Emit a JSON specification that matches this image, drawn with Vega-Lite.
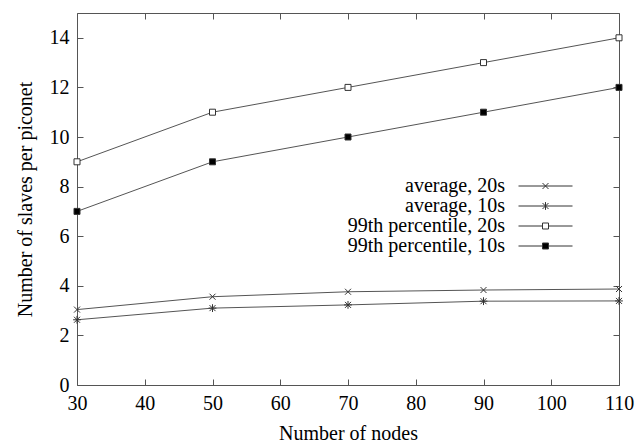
{
  "$schema": "https://vega.github.io/schema/vega-lite/v6.json",
  "width": 542,
  "height": 372,
  "autosize": {"type": "none"},
  "padding": {"left": 77, "top": 13, "right": 23, "bottom": 60},
  "background": "white",
  "config": {
    "font": "Liberation Serif, Times New Roman, DejaVu Serif, serif",
    "view": {"stroke": "#555", "strokeWidth": 1},
    "axis": {
      "domain": false,
      "grid": false,
      "tickColor": "#555",
      "tickSize": -6,
      "labelFont": "Liberation Serif, Times New Roman, DejaVu Serif, serif",
      "labelFontSize": 20,
      "labelColor": "#000",
      "labelFlush": false,
      "titleFont": "Liberation Serif, Times New Roman, DejaVu Serif, serif",
      "titleFontSize": 20,
      "titleFontWeight": "normal",
      "titleColor": "#000"
    },
    "legend": {
      "labelFont": "Liberation Serif, Times New Roman, DejaVu Serif, serif"
    }
  },
  "data": {
    "values": [
      {"nodes": 30, "value": 3.04, "series": "average, 20s"},
      {"nodes": 50, "value": 3.56, "series": "average, 20s"},
      {"nodes": 70, "value": 3.76, "series": "average, 20s"},
      {"nodes": 90, "value": 3.83, "series": "average, 20s"},
      {"nodes": 110, "value": 3.87, "series": "average, 20s"},
      {"nodes": 30, "value": 2.63, "series": "average, 10s"},
      {"nodes": 50, "value": 3.1, "series": "average, 10s"},
      {"nodes": 70, "value": 3.23, "series": "average, 10s"},
      {"nodes": 90, "value": 3.38, "series": "average, 10s"},
      {"nodes": 110, "value": 3.39, "series": "average, 10s"},
      {"nodes": 30, "value": 9, "series": "99th percentile, 20s"},
      {"nodes": 50, "value": 11, "series": "99th percentile, 20s"},
      {"nodes": 70, "value": 12, "series": "99th percentile, 20s"},
      {"nodes": 90, "value": 13, "series": "99th percentile, 20s"},
      {"nodes": 110, "value": 14, "series": "99th percentile, 20s"},
      {"nodes": 30, "value": 7, "series": "99th percentile, 10s"},
      {"nodes": 50, "value": 9, "series": "99th percentile, 10s"},
      {"nodes": 70, "value": 10, "series": "99th percentile, 10s"},
      {"nodes": 90, "value": 11, "series": "99th percentile, 10s"},
      {"nodes": 110, "value": 12, "series": "99th percentile, 10s"}
    ]
  },
  "layer": [
    {
      "mark": {"type": "line", "stroke": "#555", "strokeWidth": 1},
      "encoding": {
        "x": {"field": "nodes", "type": "quantitative", "scale": {"domain": [30, 110], "nice": false},
              "axis": {"orient": "bottom", "values": [30, 40, 50, 60, 70, 80, 90, 100, 110], "title": "Number of nodes", "labelPadding": 14, "titlePadding": 10}},
        "y": {"field": "value", "type": "quantitative", "scale": {"domain": [0, 15], "nice": false},
              "axis": {"orient": "left", "values": [0, 2, 4, 6, 8, 10, 12, 14], "title": "Number of slaves per piconet", "labelPadding": 14, "titlePadding": 14}},
        "detail": {"field": "series"}
      }
    },
    {
      "mark": {"type": "point", "filled": true, "size": 36, "opacity": 1, "stroke": "#333", "strokeWidth": 1},
      "encoding": {
        "x": {"field": "nodes", "type": "quantitative",
              "axis": {"orient": "top", "values": [30, 40, 50, 60, 70, 80, 90, 100, 110], "labels": false, "title": null}},
        "y": {"field": "value", "type": "quantitative",
              "axis": {"orient": "right", "values": [0, 2, 4, 6, 8, 10, 12, 14], "labels": false, "title": null}},
        "shape": {"field": "series", "type": "nominal",
                  "scale": {"domain": ["average, 20s", "average, 10s", "99th percentile, 20s", "99th percentile, 10s"],
                            "range": ["M-1,-1L1,1M-1,1L1,-1", "M-1,-1L1,1M-1,1L1,-1M0,-1.3V1.3M-1.3,0H1.3", "M-1,-1H1V1H-1Z", "M-1,-1H1V1H-1Z"]},
                  "legend": null},
        "fill": {"field": "series", "type": "nominal",
                 "scale": {"domain": ["average, 20s", "average, 10s", "99th percentile, 20s", "99th percentile, 10s"],
                           "range": ["transparent", "transparent", "white", "#000"]},
                 "legend": null}
      }
    },
    {
      "transform": [{"filter": "false"}],
      "mark": {"type": "point", "filled": true, "size": 36, "opacity": 1, "stroke": "#333", "strokeWidth": 1},
      "encoding": {
        "x": {"field": "nodes", "type": "quantitative", "axis": null},
        "y": {"field": "value", "type": "quantitative", "axis": null},
        "shape": {"field": "series", "type": "nominal",
                  "scale": {"domain": ["average, 20s", "average, 10s", "99th percentile, 20s", "99th percentile, 10s"],
                            "range": ["M-9,0H9M-1,-1L1,1M-1,1L1,-1", "M-9,0H9M-1,-1L1,1M-1,1L1,-1M0,-1.3V1.3", "M-9,0H-1M1,0H9M-1,-1H1V1H-1Z", "M-9,0H-1M1,0H9M-1,-1H1V1H-1Z"]},
                  "legend": {"orient": "none", "legendX": 458.5, "legendY": 163, "title": null, "padding": 0, "offset": 0,
                             "symbolSize": 36, "symbolStrokeColor": "#333", "symbolStrokeWidth": 1, "symbolOpacity": 1,
                             "labelFontSize": 20, "labelColor": "#000", "labelAlign": "right",
                             "labelOffset": -50.5, "labelLimit": 400, "rowPadding": 0,
                             "encode": {"symbols": {"update": {"stroke": {"value": "#333"}, "strokeWidth": {"value": 1}}}}}},
        "fill": {"field": "series", "type": "nominal",
                 "scale": {"domain": ["average, 20s", "average, 10s", "99th percentile, 20s", "99th percentile, 10s"],
                           "range": ["transparent", "transparent", "white", "#000"]},
                 "legend": {"orient": "none", "legendX": 458.5, "legendY": 163, "title": null, "padding": 0, "offset": 0,
                            "symbolSize": 36, "symbolStrokeColor": "#333", "symbolStrokeWidth": 1, "symbolOpacity": 1,
                            "labelFontSize": 20, "labelColor": "#000", "labelAlign": "right",
                            "labelOffset": -50.5, "labelLimit": 400, "rowPadding": 0,
                            "encode": {"symbols": {"update": {"stroke": {"value": "#333"}, "strokeWidth": {"value": 1}}}}}}
      }
    }
  ],
  "resolve": {
    "scale": {"shape": "independent", "fill": "independent"},
    "axis": {"x": "independent", "y": "independent"}
  }
}
